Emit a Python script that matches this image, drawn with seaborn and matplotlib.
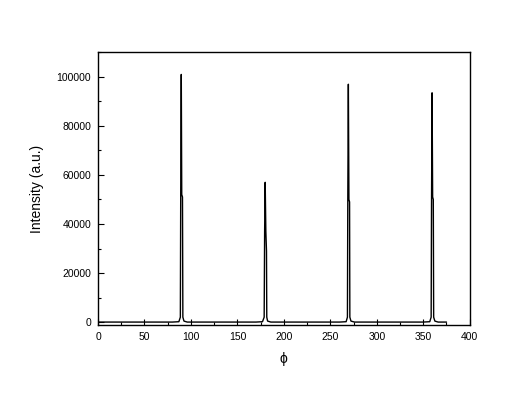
import matplotlib
matplotlib.use("Agg")
import matplotlib.pyplot as plt
import seaborn as sns
import pandas as pd
from matplotlib.ticker import MultipleLocator

sns.set_theme(style="white")
plt.rcParams['font.family'] = ['Liberation Sans', 'DejaVu Sans']

phi = [0, 20, 40, 60, 80, 87, 88.6, 89.0, 89.6, 90.1, 90.9, 91.3, 92.5, 96,
       120, 150, 170, 177, 178.8, 179.3, 179.9, 180.6, 181.3, 181.6, 182.5, 186,
       210, 240, 260, 267, 268.4, 268.8, 269.4, 270.0, 270.7, 271.0, 272.2, 276,
       300, 330, 350, 357, 358.5, 358.9, 359.5, 360.1, 360.8, 361.2, 362.5, 366, 375]
intensity = [0, 0, 0, 0, 0, 150, 2000, 52000, 101000, 52000, 51000, 2000, 400, 0,
             0, 0, 0, 150, 2000, 37000, 57000, 37000, 29000, 2000, 400, 0,
             0, 0, 0, 150, 2000, 50000, 97000, 50000, 49000, 2000, 400, 0,
             0, 0, 0, 150, 2000, 48000, 93500, 51000, 50000, 2000, 400, 0, 0]

df = pd.DataFrame({"phi": phi, "intensity": intensity})

fig = plt.figure(figsize=(5.25, 3.93), dpi=100)
ax = fig.add_axes([0.1867, 0.173, 0.708, 0.695])
sns.lineplot(data=df, x="phi", y="intensity", ax=ax, color="black", linewidth=1.0,
             estimator=None, sort=False)

ax.set_xlim(0, 400)
ax.set_ylim(-1200, 110200)
ax.xaxis.set_major_locator(MultipleLocator(50))
ax.xaxis.set_minor_locator(MultipleLocator(25))
ax.yaxis.set_major_locator(MultipleLocator(20000))
ax.yaxis.set_minor_locator(MultipleLocator(10000))
ax.tick_params(which="both", direction="in", bottom=True, left=True, top=False, right=False,
               color="black", width=0.8, labelcolor="black")
ax.tick_params(which="major", length=4, labelsize=7.5, pad=5)
ax.tick_params(which="minor", length=2.5)
for s in ax.spines.values():
    s.set_color("black")
    s.set_linewidth(1.0)

ax.set_xlabel("ϕ", fontsize=10, labelpad=7, color="black")
ax.set_ylabel("Intensity (a.u.)", fontsize=10, labelpad=9, color="black")

fig.savefig("out.png", dpi=100)
